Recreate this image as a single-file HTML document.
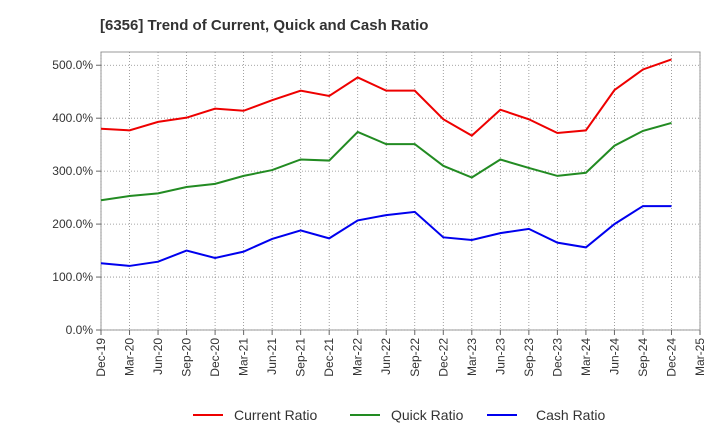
<!DOCTYPE html>
<html><head><meta charset="utf-8"><style>
body{margin:0;background:#fff;font-family:"Liberation Sans",Arial,sans-serif}
svg text{font-family:"Liberation Sans",Arial,sans-serif}
</style></head><body>
<svg id="chart" width="720" height="440" xmlns="http://www.w3.org/2000/svg">
<text x="100" y="30" font-size="15" font-weight="bold" fill="#333">[6356]  Trend of Current, Quick and Cash Ratio</text>
<g id="grid"></g><g id="axes"></g><g id="series"></g>
<g>
<g><line x1="193" y1="415" x2="223" y2="415" stroke="#e00" stroke-width="2"/><text x="234" y="420" font-size="14" fill="#333">Current Ratio</text></g>
<g><line x1="350" y1="415" x2="380" y2="415" stroke="#228b22" stroke-width="2"/><text x="391" y="420" font-size="14" fill="#333">Quick Ratio</text></g>
<g><line x1="487" y1="415" x2="517" y2="415" stroke="#00e" stroke-width="2"/><text x="536" y="420" font-size="14" fill="#333">Cash Ratio</text></g>
</g>
</svg>
<script>
const categories=["Dec-19","Mar-20","Jun-20","Sep-20","Dec-20","Mar-21","Jun-21","Sep-21","Dec-21","Mar-22","Jun-22","Sep-22","Dec-22","Mar-23","Jun-23","Sep-23","Dec-23","Mar-24","Jun-24","Sep-24","Dec-24","Mar-25"];
const currentRatio=[380,377,393,401,418,414,434,452,442,477,452,452,398,367,416,398,372,377,453,492,511];
const quickRatio=[245,253,258,270,276,291,302,322,320,374,351,351,310,288,322,306,291,297,348,376,391];
const cashRatio=[126,121,129,150,136,148,172,188,173,207,217,223,175,170,183,191,165,156,200,234,234];
const yTicks=[0,100,200,300,400,500];
const yTickLabels=["0.0%","100.0%","200.0%","300.0%","400.0%","500.0%"];
const L=101,R=700,T=52,B=330,YMAX=525;
const NS="http://www.w3.org/2000/svg";
const xs=i=>L+(R-L)*i/(categories.length-1);
const ys=v=>B-(B-T)*v/YMAX;
function mk(tag,attrs,parent){const e=document.createElementNS(NS,tag);for(const k in attrs)e.setAttribute(k,attrs[k]);parent.appendChild(e);return e;}
const grid=document.getElementById('grid'),axes=document.getElementById('axes'),ser=document.getElementById('series');
mk('rect',{x:L,y:T,width:R-L,height:B-T,fill:'none',stroke:'#999'},grid);
for(let i=0;i<categories.length;i++){const x=xs(i);
 const g=mk('line',{x1:x,x2:x,y1:T,y2:B,stroke:'#888','stroke-dasharray':'1,2','stroke-width':0.8},grid);
 
 
 mk('line',{x1:x,x2:x,y1:B,y2:B+5,stroke:'#666'},axes);
 const t=mk('text',{x:0,y:0,'font-size':12,fill:'#333','text-anchor':'end',transform:`translate(${x+4},${B+8}) rotate(-90)`},axes);t.textContent=categories[i];
 
 
}
yTicks.forEach((v,i)=>{const y=ys(v);
 const g=mk('line',{x1:L,x2:R,y1:y,y2:y,stroke:'#888','stroke-dasharray':'1,2','stroke-width':0.8},grid);
 
 
 mk('line',{x1:L-5,x2:L,y1:y,y2:y,stroke:'#666'},axes);
 const t=mk('text',{x:L-8,y:y+4,'font-size':12,fill:'#333','text-anchor':'end'},axes);t.textContent=yTickLabels[i];
 
 
});
[[currentRatio,'#e00','current-ratio-line'],[quickRatio,'#228b22','quick-ratio-line'],[cashRatio,'#00e','cash-ratio-line']].forEach(([d,c,n])=>{
 const p=mk('polyline',{points:d.map((v,i)=>xs(i)+','+ys(v)).join(' '),fill:'none',stroke:c,'stroke-width':2},ser);
 
 
});
</script>
</body></html>
